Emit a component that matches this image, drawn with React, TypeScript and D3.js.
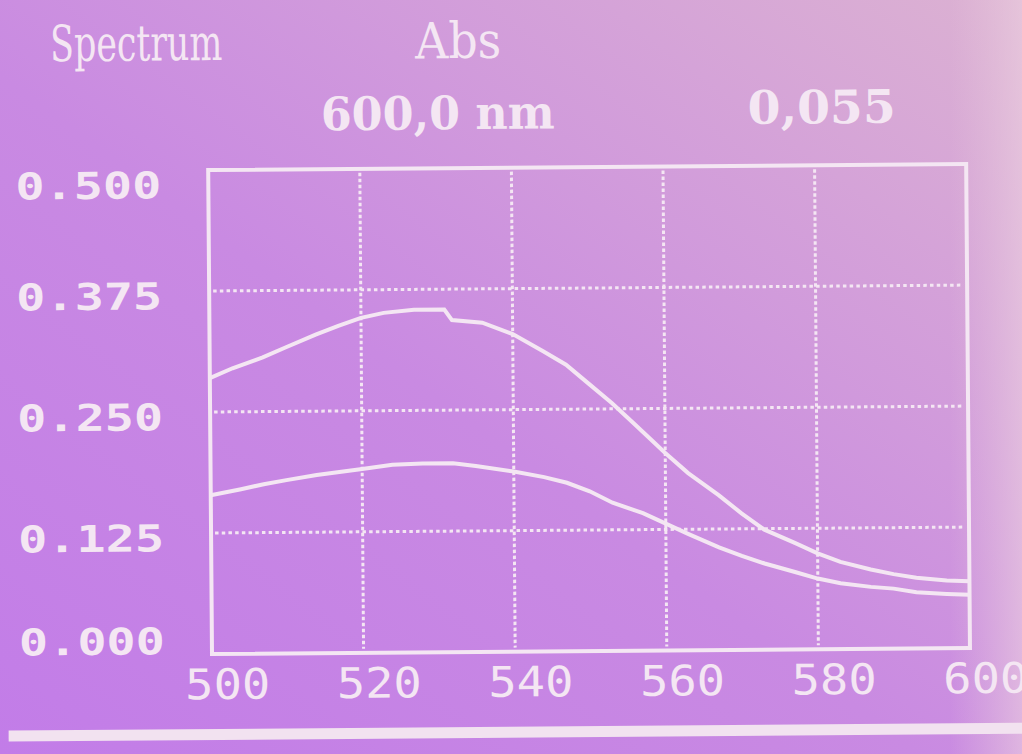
import React from "react";
import * as d3 from "d3";

// Wavelengths (nm) and absorbance readings for the two scans
const upperWavelengths = [500, 503, 507, 510, 514, 517, 520, 523, 527, 531, 532, 536, 540, 544, 547, 550, 553, 556, 560, 563, 567, 570, 573, 577, 580, 583, 587, 590, 593, 597, 600];
const upperAbs = [0.285, 0.295, 0.306, 0.316, 0.329, 0.338, 0.346, 0.351, 0.354, 0.354, 0.343, 0.340, 0.328, 0.310, 0.296, 0.276, 0.256, 0.234, 0.204, 0.183, 0.160, 0.141, 0.124, 0.110, 0.099, 0.090, 0.082, 0.077, 0.073, 0.070, 0.069];

const lowerWavelengths = [500, 504, 507, 510, 514, 517, 520, 524, 528, 532, 535, 540, 544, 547, 550, 553, 557, 560, 563, 567, 570, 573, 577, 580, 583, 587, 590, 593, 597, 600];
const lowerAbs = [0.164, 0.170, 0.175, 0.179, 0.184, 0.187, 0.190, 0.194, 0.195, 0.195, 0.192, 0.186, 0.180, 0.174, 0.165, 0.153, 0.142, 0.131, 0.120, 0.106, 0.097, 0.089, 0.080, 0.073, 0.068, 0.064, 0.062, 0.058, 0.056, 0.055];

const xTicks = [500, 520, 540, 560, 580, 600];
const yTicks = [0, 0.125, 0.25, 0.375, 0.5];
const yTickLabels = ["0.000", "0.125", "0.250", "0.375", "0.500"];

const titleText = "Spectrum";
const unitText = "Abs";
const readoutWavelength = "600,0 nm";
const readoutValue = "0,055";

const W = 1022;
const H = 754;
const ink = "#f4e6f3";

export default function App() {
  const x = d3.scaleLinear().domain([500, 600]).range([212, 970]);
  const y = d3.scaleLinear().domain([0, 0.5]).range([654, 170]);

  const line = d3
    .line<[number, number]>()
    .x((d) => x(d[0]))
    .y((d) => y(d[1]))
    .curve(d3.curveLinear);

  const upper = upperWavelengths.map((w, i) => [w, upperAbs[i]] as [number, number]);
  const lower = lowerWavelengths.map((w, i) => [w, lowerAbs[i]] as [number, number]);

  const [x0, x1] = x.range();
  const [y0, y1] = y.range();

  const pixelFont = "'DejaVu Sans Mono', monospace";
  const serifFont = "'DejaVu Serif', 'Liberation Serif', serif";

  return (
    <svg
      width={W}
      height={H}
      style={{ position: "fixed", left: 0, top: 0, display: "block" }}
    >
      <defs>
        <linearGradient id="screen" x1="0" y1="1" x2="1" y2="0">
          <stop offset="0" stopColor="#c27ce8" />
          <stop offset="0.45" stopColor="#c98ae2" />
          <stop offset="1" stopColor="#dcb2d2" />
        </linearGradient>
        <linearGradient id="edge" x1="0" y1="0" x2="1" y2="0">
          <stop offset="0" stopColor="#e6c6dc" stopOpacity="0" />
          <stop offset="1" stopColor="#ecd0e0" stopOpacity="0.6" />
        </linearGradient>
      </defs>
      <rect width={W} height={H} fill="url(#screen)" />
      <rect x={950} width={72} height={H} fill="url(#edge)" />

      <g transform={`rotate(-0.45, ${x0}, ${y0})`}>
        {/* header */}
        <text x={55} y={60} fill={ink} fontFamily={serifFont} fontSize={50} textLength={172} lengthAdjust="spacingAndGlyphs">
          {titleText}
        </text>
        <text x={420} y={60} fill={ink} fontFamily={serifFont} fontSize={50} textLength={86} lengthAdjust="spacingAndGlyphs">
          {unitText}
        </text>
        <text x={325} y={131} fill={ink} fontFamily={serifFont} fontWeight="bold" fontSize={46} textLength={234} lengthAdjust="spacingAndGlyphs">
          {readoutWavelength}
        </text>
        <text x={752} y={128} fill={ink} fontFamily={serifFont} fontWeight="bold" fontSize={46} textLength={148} lengthAdjust="spacingAndGlyphs">
          {readoutValue}
        </text>

        {/* dotted grid */}
        {yTicks
          .filter((t) => t > 0 && t < 0.5)
          .map((t) => (
            <line key={`h${t}`} x1={x0 + 4} x2={x1 - 4} y1={y(t)} y2={y(t)} stroke={ink} strokeWidth={3} strokeDasharray="3.5 3.2" />
          ))}
        {xTicks
          .filter((t) => t > 500 && t < 600)
          .map((t) => (
            <line key={`v${t}`} x1={x(t)} x2={x(t)} y1={y1 + 4} y2={y0 - 4} stroke={ink} strokeWidth={3} strokeDasharray="3.5 2.5" />
          ))}

        {/* plot frame */}
        <rect x={x0} y={y1} width={x1 - x0} height={y0 - y1} fill="none" stroke={ink} strokeWidth={4} />

        {/* spectra */}
        <path d={line(upper) || ""} fill="none" stroke={ink} strokeWidth={4} strokeLinejoin="miter" />
        <path d={line(lower) || ""} fill="none" stroke={ink} strokeWidth={4} strokeLinejoin="miter" />

        {/* y-axis labels */}
        {yTicks.map((t, i) => {
          const cy = Math.min(Math.max(y(t) + 5, y1 + 15), y0 - 13);
          return (
            <text key={`yl${t}`} x={19} y={cy + 13} fill={ink} fontFamily={pixelFont} fontWeight="bold" fontSize={37} textLength={146} lengthAdjust="spacingAndGlyphs">
              {yTickLabels[i]}
            </text>
          );
        })}

        {/* x-axis labels */}
        {xTicks.map((t) => (
          <text key={`xl${t}`} x={x(t) - 27} y={699} fill={ink} fontFamily={pixelFont} fontSize={42} textLength={85} lengthAdjust="spacingAndGlyphs">
            {String(t)}
          </text>
        ))}

        {/* separator bar under the plot */}
        <rect x={8} y={729} width={W} height={11} fill="#f2e2f0" />
      </g>
    </svg>
  );
}
